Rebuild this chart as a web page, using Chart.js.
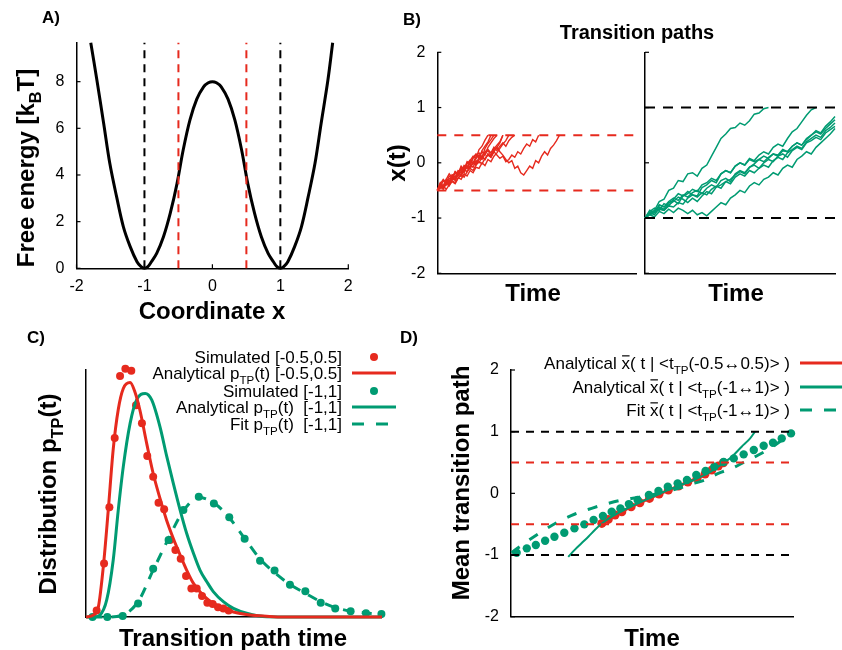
<!DOCTYPE html>
<html>
<head>
<meta charset="utf-8">
<script src="https://cdn.jsdelivr.net/npm/chart.js@4.4.1/dist/chart.umd.min.js"></script>
<style>
  body { margin: 0; background: #fff; }
  #wrap { position: relative; width: 842px; height: 650px; background: #fff; }
  canvas { position: absolute; left: 0; top: 0; }
</style>
</head>
<body>
<div id="wrap">
  <canvas id="cA" width="842" height="650"></canvas>
  <canvas id="cB1" width="842" height="650"></canvas>
  <canvas id="cB2" width="842" height="650"></canvas>
  <canvas id="cC" width="842" height="650"></canvas>
  <canvas id="cD" width="842" height="650"></canvas>
</div>
<script>
const RED = "#e62a1e";
const GREEN = "#009b72";
const W = 842, H = 650;
const FONT = "'Liberation Sans', Arial, sans-serif";

// ---- A) free energy profile
const aX = [-1.79, -1.70, -1.60, -1.51, -1.41, -1.31, -1.21, -1.11, -1.05, -1.0, -0.95, -0.9, -0.82, -0.72, -0.62, -0.52, -0.43, -0.33, -0.23, -0.13, -0.06, 0,
  0.06, 0.13, 0.23, 0.33, 0.43, 0.52, 0.62, 0.72, 0.82, 0.9, 0.95, 1.0, 1.05, 1.11, 1.21, 1.31, 1.41, 1.51, 1.60, 1.70, 1.77];
const aF = [9.67, 8.07, 6.21, 4.50, 3.07, 1.78, 0.93, 0.28, 0.07, 0, 0.07, 0.27, 0.64, 1.35, 2.36, 3.64, 5.07, 6.36, 7.25, 7.78, 7.95, 8.0,
  7.95, 7.78, 7.25, 6.36, 5.07, 3.64, 2.36, 1.35, 0.64, 0.27, 0.07, 0, 0.07, 0.28, 0.93, 1.78, 3.07, 4.50, 6.21, 8.07, 9.67];
const aBlackLines = [-1, 1];
const aRedLines = [-0.5, 0.5];
const aTicksX = [-2, -1, 0, 1, 2];
const aTicksY = [0, 2, 4, 6, 8];

// ---- B) transition paths (time steps of the two panels)
const dtRed = 1.5;
const red1 = [-0.5,-0.41,-0.45,-0.33,-0.36,-0.22,-0.27,-0.15,-0.19,-0.05,-0.1,0.04,0.12,0.08,0.24,0.3,0.41,0.5];
const red2 = [-0.5,-0.45,-0.32,-0.4,-0.28,-0.3,-0.18,-0.24,-0.1,-0.14,-0.02,0.05,-0.01,0.12,0.18,0.1,0.26,0.35,0.42,0.5];
const red3 = [-0.5,-0.36,-0.42,-0.3,-0.2,-0.27,-0.16,-0.22,-0.08,-0.12,0.0,-0.04,0.08,0.15,0.1,0.2,0.14,0.28,0.36,0.44,0.5];
const red4 = [-0.5,-0.4,-0.46,-0.35,-0.38,-0.25,-0.31,-0.2,-0.12,-0.18,-0.06,-0.1,0.02,-0.02,0.1,0.06,0.16,0.22,0.14,0.25,0.32,0.38,0.5];
const red5 = [-0.5,-0.44,-0.48,-0.38,-0.42,-0.32,-0.36,-0.27,-0.3,-0.2,-0.24,-0.14,-0.18,-0.08,-0.1,0.0,-0.05,0.06,0.02,0.12,0.18,0.26,0.34,0.4,0.5];
const red6 = [-0.5,-0.38,-0.43,-0.3,-0.34,-0.22,-0.26,-0.14,-0.18,-0.06,-0.1,0.02,-0.02,0.08,0.14,0.1,0.2,0.24,0.18,0.28,0.22,0.3,0.36,0.3,0.4,0.46,0.5];
const red7 = [-0.5,-0.42,-0.46,-0.35,-0.4,-0.28,-0.32,-0.2,-0.25,-0.12,-0.16,-0.05,-0.08,0.04,0.0,0.1,0.06,0.16,0.12,0.22,0.28,0.2,0.14,0.06,0.0,0.04,-0.1,-0.06,-0.18,-0.22,-0.14,-0.06,-0.1,0.04,0.0,0.12,0.2,0.14,0.26,0.32,0.4,0.5];
const red8 = [-0.5,-0.4,-0.44,-0.32,-0.36,-0.26,-0.3,-0.18,-0.22,-0.12,-0.06,-0.1,0.0,-0.04,0.06,0.12,0.06,0.16,0.1,0.2,0.14,0.08,0.12,0.02,0.06,0.14,0.1,0.2,0.16,0.26,0.34,0.3,0.42,0.38,0.5];
const red9 = [-0.5,-0.38,-0.3,-0.36,-0.24,-0.28,-0.16,-0.2,-0.06,-0.12,0.02,-0.02,0.1,0.16,0.08,0.22,0.3,0.38,0.5];
const red10 = [-0.5,-0.46,-0.42,-0.48,-0.4,-0.34,-0.38,-0.28,-0.22,-0.26,-0.16,-0.1,-0.14,-0.04,0.02,-0.02,0.08,0.14,0.1,0.2,0.28,0.36,0.5];

const dtGreen = 2.5;
const green1 = [-1,-0.9,-0.86,-0.7,-0.66,-0.5,-0.46,-0.32,-0.34,-0.2,-0.18,-0.24,-0.1,-0.04,0.12,0.28,0.44,0.52,0.62,0.64,0.72,0.68,0.76,0.88,0.9,0.98,1.0];
const green2 = [-1,-0.92,-0.88,-0.8,-0.84,-0.72,-0.68,-0.74,-0.6,-0.56,-0.48,-0.52,-0.4,-0.36,-0.28,-0.32,-0.2,-0.14,-0.18,-0.06,0.0,-0.04,0.08,0.04,0.14,0.2,0.16,0.28,0.34,0.3,0.44,0.56,0.62,0.74,0.86,0.96,1.0];
const green3 = [-1,-0.94,-0.9,-0.84,-0.86,-0.78,-0.8,-0.72,-0.75,-0.64,-0.58,-0.6,-0.45,-0.4,-0.32,-0.36,-0.2,-0.14,-0.18,-0.06,0.0,-0.04,0.06,0.02,0.06,0.12,0.08,0.16,0.14,0.24,0.2,0.3,0.36,0.32,0.44,0.5,0.58,0.54,0.66,0.74,0.84];
const green4 = [-1,-0.9,-0.94,-0.82,-0.86,-0.76,-0.7,-0.62,-0.66,-0.72,-0.64,-0.7,-0.6,-0.52,-0.56,-0.44,-0.4,-0.34,-0.38,-0.26,-0.2,-0.24,-0.14,-0.18,-0.1,-0.04,-0.08,0.04,0.1,0.06,0.18,0.24,0.3,0.26,0.38,0.44,0.5,0.46,0.58,0.64,0.72];
const green5 = [-1,-0.94,-0.98,-0.88,-0.92,-0.84,-0.9,-0.82,-0.86,-0.92,-0.86,-0.94,-0.9,-0.96,-0.88,-0.8,-0.72,-0.76,-0.64,-0.58,-0.5,-0.54,-0.42,-0.36,-0.4,-0.3,-0.26,-0.18,-0.22,-0.1,-0.04,-0.08,0.06,0.12,0.2,0.16,0.28,0.36,0.44,0.52,0.62];
const green6 = [-1,-0.86,-0.9,-0.76,-0.8,-0.7,-0.64,-0.68,-0.58,-0.62,-0.54,-0.5,-0.56,-0.46,-0.4,-0.44,-0.32,-0.28,-0.34,-0.2,-0.14,-0.18,-0.08,-0.04,-0.1,0.0,0.06,0.02,0.12,0.16,0.1,0.22,0.28,0.24,0.36,0.4,0.46,0.42,0.54,0.6,0.66];
const green7 = [-1,-0.88,-0.82,-0.86,-0.74,-0.78,-0.66,-0.56,-0.6,-0.52,-0.58,-0.62,-0.54,-0.58,-0.48,-0.42,-0.46,-0.34,-0.3,-0.22,-0.16,-0.2,-0.08,-0.02,0.06,0.02,0.1,0.16,0.12,0.22,0.2,0.3,0.36,0.32,0.42,0.5,0.56,0.52,0.62,0.7,0.78];
const bTicksY = [-2, -1, 0, 1, 2];

// ---- C) transition path time distributions
const cSimRedT = [.036,.061,.079,.097,.115,.133,.153,.169,.189,.207,.227,.245,.264,.284,.302,.320,.338,.356,.374,.392,.410,.428,.446,.464,.482];
const cSimRedP = [.026,.217,.444,.725,.976,1.005,.997,.857,.784,.652,.568,.463,.436,.312,.271,.236,.166,.115,.115,.085,.058,.053,.039,.034,.026];
const cAnaRedT = [0,.025,.042,.059,.075,.092,.109,.126,.149,.165,.182,.205,.227,.250,.272,.295,.318,.340,.363,.385,.419,.453,.498,.554,.610,.666,1.0];
const cAnaRedP = [0,.008,.042,.21,.43,.68,.84,.925,.949,.912,.838,.703,.581,.480,.393,.318,.251,.190,.136,.102,.064,.041,.020,.008,.003,0,0];
const cSimGreenT = [.022,.072,.124,.176,.227,.279,.329,.381,.432,.484,.536,.588,.637,.689,.741,.793,.842,.894,.946,.998];
const cSimGreenP = [0,0,.004,.055,.195,.312,.433,.487,.460,.404,.317,.228,.188,.131,.104,.058,.034,.023,.015,.012];
const cAnaGreenT = [0,.025,.047,.070,.092,.109,.126,.149,.171,.200,.222,.250,.273,.295,.318,.340,.363,.385,.408,.430,.464,.498,.543,.610,.711,1.0];
const cAnaGreenP = [0,0,.008,.069,.231,.433,.609,.784,.879,.905,.879,.770,.649,.541,.433,.339,.258,.190,.143,.103,.062,.035,.015,.001,0,0];
const cFitGreenT = [.022,.072,.124,.176,.227,.279,.329,.381,.432,.484,.536,.588,.637,.689,.741,.793,.842,.894,.946,.998];
const cFitGreenP = [0,0,.008,.062,.19,.318,.43,.484,.462,.402,.318,.235,.18,.132,.096,.062,.038,.024,.016,.011];

// ---- D) mean transition paths
const dRedT = [.322,.345,.369,.393,.426,.457,.491,.525,.558,.594,.627,.660,.688,.712,.735,.753];
const dRedX = [-.487,-.422,-.352,-.298,-.217,-.153,-.082,-.012,.053,.118,.183,.248,.312,.377,.442,.496];
const dGreenT = [.203,.225,.250,.275,.298,.322,.36,.40,.45,.50,.55,.60,.65,.70,.74,.783,.818,.848,.865];
const dGreenX = [-1.03,-.92,-.81,-.70,-.59,-.49,-.37,-.27,-.16,-.06,.04,.13,.22,.33,.45,.593,.756,.891,1.0];
const dFitT = [.002,.050,.109,.168,.227,.286,.345,.404,.452,.499,.546,.594,.641,.688,.735,.783,.830,.877,.924,.978];
const dFitX = [-.962,-.80,-.62,-.46,-.335,-.243,-.162,-.097,-.065,-.027,.026,.081,.151,.216,.324,.405,.513,.621,.745,.92];
const dDotsT = [.020,.056,.088,.121,.154,.189,.225,.260,.293,.326,.357,.388,.418,.449,.489,.523,.556,.591,.624,.657,.690,.721,.754,.790,.825,.861,.896,.929,.960,.993];
const dDotsX = [-.962,-.892,-.838,-.768,-.703,-.638,-.568,-.503,-.432,-.368,-.298,-.244,-.174,-.108,-.027,.038,.108,.162,.216,.297,.362,.432,.508,.567,.632,.702,.772,.821,.891,.972];
const dBlackLines = [-1, 1];
const dRedLines = [-0.5, 0.5];
const dTicksY = [-2, -1, 0, 1, 2];

// ---------- helpers
const pts = (xs, ys) => xs.map((x, i) => ({ x: x, y: ys[i] }));
const walk = (vals, dt) => vals.map((v, i) => ({ x: i * dt, y: v }));

function line(data, color, width, dash, tension, mode) {
  return { data: data, borderColor: color, borderWidth: width, borderDash: dash || [],
    pointRadius: 0, fill: false, tension: tension || 0,
    cubicInterpolationMode: mode || (tension ? "monotone" : "default"), clip: false };
}
function dots(data, color, r) {
  return { data: data, showLine: false, pointRadius: r, pointHoverRadius: r,
    pointBackgroundColor: color, pointBorderColor: color, pointBorderWidth: 0,
    borderColor: color, clip: false };
}

function parse(s) {
  const out = [];
  const re = /_\{([^}]*)\}|\$([^$]*)\$|([^_$]+)/g;
  let m;
  while ((m = re.exec(s))) {
    if (m[1] !== undefined) out.push({ t: m[1], sub: true });
    else if (m[2] !== undefined) out.push({ t: m[2], bar: true });
    else out.push({ t: m[3] });
  }
  return out;
}

function drawRich(ctx, o) {
  const size = o.size, segs = parse(o.s);
  const f = (sz) => (o.bold ? "bold " : "") + sz + "px " + FONT;
  let total = 0;
  segs.forEach((g) => {
    ctx.font = f(g.sub ? size * 0.68 : size);
    g.w = ctx.measureText(g.t).width;
    total += g.w;
  });
  ctx.save();
  ctx.translate(o.x, o.y);
  if (o.rot) ctx.rotate(-Math.PI / 2);
  let x = o.align === "right" ? -total : o.align === "left" ? 0 : -total / 2;
  const base = size * 0.36;
  ctx.fillStyle = "#000";
  ctx.strokeStyle = "#000";
  ctx.textBaseline = "alphabetic";
  ctx.textAlign = "left";
  segs.forEach((g) => {
    ctx.font = f(g.sub ? size * 0.68 : size);
    ctx.fillText(g.t, x, g.sub ? base + size * 0.3 : base);
    if (g.bar) {
      ctx.lineWidth = size * 0.07;
      ctx.beginPath();
      ctx.moveTo(x + 0.5, base - size * 0.78);
      ctx.lineTo(x + g.w - 0.5, base - size * 0.78);
      ctx.stroke();
    }
    x += g.w;
  });
  ctx.restore();
}

// decoration: inward ticks, texts, legend
function deco(cfg) {
  return {
    id: "deco",
    afterDraw(chart) {
      const ctx = chart.ctx, a = chart.chartArea;
      ctx.save();
      ctx.strokeStyle = "#000";
      ctx.lineWidth = 1.2;
      if (cfg.tickX) {
        const s = chart.scales.x;
        s.ticks.forEach((t) => {
          const p = s.getPixelForValue(t.value);
          ctx.beginPath(); ctx.moveTo(p, a.bottom); ctx.lineTo(p, a.bottom - 4); ctx.stroke();
        });
      }
      if (cfg.tickY) {
        const s = chart.scales.y;
        s.ticks.forEach((t) => {
          const p = s.getPixelForValue(t.value);
          ctx.beginPath(); ctx.moveTo(a.left, p); ctx.lineTo(a.left + 4, p); ctx.stroke();
        });
      }
      (cfg.texts || []).forEach((t) => drawRich(ctx, t));
      (cfg.legend || []).forEach((e) => {
        drawRich(ctx, { s: e.s, x: cfg.legendRight, y: e.y, size: 17, align: "right" });
        ctx.strokeStyle = e.color;
        ctx.fillStyle = e.color;
        if (e.kind === "dot") {
          ctx.beginPath();
          ctx.arc((cfg.symX1 + cfg.symX2) / 2, e.y, 4, 0, Math.PI * 2);
          ctx.fill();
        } else {
          ctx.lineWidth = 3;
          ctx.setLineDash(e.kind === "dash" ? [12, 12] : []);
          ctx.beginPath();
          ctx.moveTo(cfg.symX1, e.y);
          ctx.lineTo(cfg.symX2, e.y);
          ctx.stroke();
          ctx.setLineDash([]);
        }
      });
      ctx.restore();
    }
  };
}

function axis(min, max, size, isX, tickVals, showLabels, pad) {
  return {
    type: "linear", min: min, max: max,
    grid: { display: false, drawTicks: false },
    border: { display: true, color: "#000", width: 1.5 },
    afterBuildTicks: (s) => { s.ticks = (tickVals || []).map((v) => ({ value: v })); },
    ticks: { display: showLabels, color: "#000", padding: pad || 10, maxRotation: 0,
      font: { family: "Liberation Sans", size: 16 } },
    afterFit: (s) => { if (isX) s.height = size; else s.width = size; }
  };
}

function makeChart(id, frame, datasets, xs, ys, plugin) {
  return new Chart(document.getElementById(id), {
    type: "line",
    data: { datasets: datasets },
    options: {
      responsive: false, animation: false, devicePixelRatio: 1,
      layout: { padding: { left: 0, top: frame.t, right: W - frame.r, bottom: 0 } },
      plugins: { legend: { display: false }, tooltip: { enabled: false } },
      scales: { x: xs, y: ys }
    },
    plugins: [plugin]
  });
}

// ---------- A
const fA = { l: 76.5, t: 42.7, r: 348.3, b: 268.3 };
const dsA = [];
aBlackLines.forEach((v) => dsA.push(line([{ x: v, y: 0 }, { x: v, y: 9.67 }], "#000", 2, [8, 6])));
aRedLines.forEach((v) => dsA.push(line([{ x: v, y: 0 }, { x: v, y: 9.67 }], RED, 2, [8, 6])));
dsA.push(line(pts(aX, aF), "#000", 3, [], 0.35, "default"));
makeChart("cA", fA, dsA,
  axis(-2, 2, H - fA.b, true, aTicksX, true, 9),
  axis(0, 9.67, fA.l, false, aTicksY, true, 12),
  deco({ tickX: true, tickY: true, texts: [
    { s: "A)", x: 42, y: 17, size: 17, bold: true, align: "left" },
    { s: "Coordinate x", x: 212, y: 310, size: 24, bold: true },
    { s: "Free energy [k_{B}T]", x: 25, y: 168, size: 24, bold: true, rot: true }
  ] }));

// ---------- B left
const fB1 = { l: 437.3, t: 52.3, r: 636, b: 273.3 };
const dsB1 = [];
aRedLines.forEach((v) => dsB1.push(line([{ x: 0, y: v }, { x: 100, y: v }], RED, 2, [9, 8])));
[red1, red2, red3, red4, red5, red6, red7, red8, red9, red10].forEach((p) => dsB1.push(line(walk(p, dtRed), RED, 1.4)));
makeChart("cB1", fB1, dsB1,
  axis(0, 100, H - fB1.b, true, [], false),
  axis(-2, 2, fB1.l, false, bTicksY, true, 12),
  deco({ tickY: true, texts: [
    { s: "B)", x: 403, y: 19, size: 17, bold: true, align: "left" },
    { s: "Transition paths", x: 637, y: 32, size: 20, bold: true },
    { s: "x(t)", x: 396, y: 163, size: 24, bold: true, rot: true },
    { s: "Time", x: 533, y: 292, size: 24, bold: true }
  ] }));

// ---------- B right
const fB2 = { l: 645, t: 52.3, r: 835, b: 273.3 };
const dsB2 = [];
aBlackLines.forEach((v) => dsB2.push(line([{ x: 0, y: v }, { x: 100, y: v }], "#000", 2, [10, 8])));
[green1, green2, green3, green4, green5, green6, green7].forEach((p) => dsB2.push(line(walk(p, dtGreen), GREEN, 1.5)));
makeChart("cB2", fB2, dsB2,
  axis(0, 100, H - fB2.b, true, [], false),
  axis(-2, 2, fB2.l, false, bTicksY, false),
  deco({ tickY: true, texts: [
    { s: "Time", x: 736, y: 292, size: 24, bold: true }
  ] }));

// ---------- C
const fC = { l: 86, t: 370, r: 382, b: 617 };
makeChart("cC", fC, [
    line(pts(cAnaRedT, cAnaRedP), RED, 3, [], 0.4),
    line(pts(cAnaGreenT, cAnaGreenP), GREEN, 3, [], 0.4),
    line(pts(cFitGreenT, cFitGreenP), GREEN, 3, [10, 9], 0.4),
    dots(pts(cSimGreenT, cSimGreenP), GREEN, 4),
    dots(pts(cSimRedT, cSimRedP), RED, 4)
  ],
  axis(0, 1, H - fC.b, true, [], false),
  axis(0, 1, fC.l, false, [], false),
  deco({ texts: [
      { s: "C)", x: 27, y: 337, size: 17, bold: true, align: "left" },
      { s: "Transition path time", x: 233, y: 637, size: 24, bold: true },
      { s: "Distribution p_{TP}(t)", x: 47, y: 494, size: 24, bold: true, rot: true }
    ],
    legendRight: 342, symX1: 352, symX2: 396,
    legend: [
      { s: "Simulated [-0.5,0.5]", y: 357, kind: "dot", color: RED },
      { s: "Analytical p_{TP}(t) [-0.5,0.5]", y: 373, kind: "line", color: RED },
      { s: "Simulated [-1,1]", y: 391, kind: "dot", color: GREEN },
      { s: "Analytical p_{TP}(t)  [-1,1]", y: 407, kind: "line", color: GREEN },
      { s: "Fit p_{TP}(t)  [-1,1]", y: 424, kind: "dash", color: GREEN }
    ] }));

// ---------- D
const fD = { l: 511, t: 370, r: 793, b: 616.7 };
const dsD = [];
dBlackLines.forEach((v) => dsD.push(line([{ x: 0, y: v }, { x: 1, y: v }], "#000", 2, [8, 7])));
dRedLines.forEach((v) => dsD.push(line([{ x: 0, y: v }, { x: 1, y: v }], RED, 2, [8, 7])));
dsD.push(dots(pts(dDotsT, dDotsX), GREEN, 4.2));
dsD.push(line(pts(dFitT, dFitX), GREEN, 3, [10, 12], 0.4));
dsD.push(line(pts(dGreenT, dGreenX), GREEN, 2, [], 0.4));
const redD = line(pts(dRedT, dRedX), RED, 3, [], 0.4);
redD.pointRadius = 4.5; redD.pointBackgroundColor = RED; redD.pointBorderWidth = 0;
dsD.push(redD);
makeChart("cD", fD, dsD,
  axis(0, 1, H - fD.b, true, [], false),
  axis(-2, 2, fD.l, false, dTicksY, true, 12),
  deco({ tickY: true, texts: [
      { s: "D)", x: 400, y: 337, size: 17, bold: true, align: "left" },
      { s: "Time", x: 652, y: 637, size: 24, bold: true },
      { s: "Mean transition path", x: 460, y: 483, size: 24, bold: true, rot: true }
    ],
    legendRight: 790, symX1: 800, symX2: 842,
    legend: [
      { s: "Analytical $x$( t | <t_{TP}(-0.5\u21940.5)> )", y: 363, kind: "line", color: RED },
      { s: "Analytical $x$( t | <t_{TP}(-1\u21941)> )", y: 387, kind: "line", color: GREEN },
      { s: "Fit $x$( t | <t_{TP}(-1\u21941)> )", y: 410, kind: "dash", color: GREEN }
    ] }));
</script>
</body>
</html>
